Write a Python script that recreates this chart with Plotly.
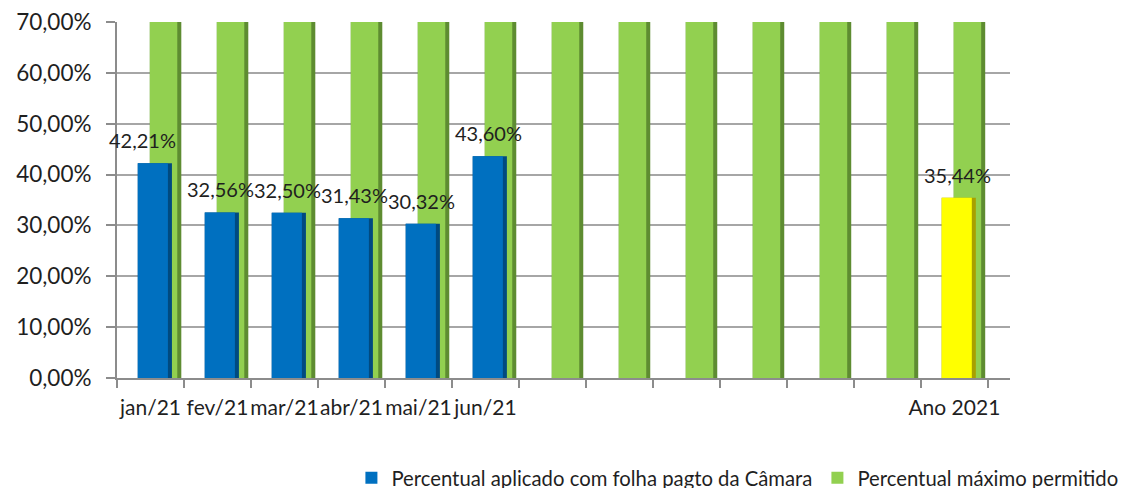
import plotly.graph_objects as go

categories = ["jan/21", "fev/21", "mar/21", "abr/21", "mai/21", "jun/21",
              "", "", "", "", "", "", "Ano 2021"]
aplicado = [42.21, 32.56, 32.50, 31.43, 30.32, 43.60,
            None, None, None, None, None, None, 35.44]
maximo = [70, 70, 70, 70, 70, 70, 70, 70, 70, 70, 70, 70, 70]

x = list(range(len(categories)))

# front series: blue for months, yellow for the year total
front_colors = ["#0070C0"] * (len(x) - 1) + ["#FFFF00"]
front_edge = ["#004A80"] * (len(x) - 1) + ["#A8A000"]

fig = go.Figure()

# back series (green) with a darker right edge for the 3D look
fig.add_trace(go.Bar(
    x=x, y=maximo, offset=-0.01, width=0.47,
    marker_color="#5E8C31", marker_line_width=0,
    showlegend=False, hoverinfo="skip"
))
fig.add_trace(go.Bar(
    x=x, y=maximo, offset=-0.01, width=0.41,
    marker_color="#92D050", marker_line_width=0,
    name="Percentual máximo permitido"
))

# front series
fig.add_trace(go.Bar(
    x=x, y=aplicado, offset=-0.19, width=0.51,
    marker_color=front_edge, marker_line_width=0,
    showlegend=False, hoverinfo="skip"
))
fig.add_trace(go.Bar(
    x=x, y=aplicado, offset=-0.19, width=0.45,
    marker_color=front_colors, marker_line_width=0,
    name="Percentual aplicado com folha pagto da Câmara"
))

# data labels
for xi, v in zip(x, aplicado):
    if v is None:
        continue
    fig.add_annotation(
        x=xi, y=v, text=f"{v:.2f}".replace(".", ",") + "%",
        showarrow=False, yshift=23, xshift=-8 if xi == 0 else 3,
        font=dict(size=20, color="#1F1F1F")
    )

fig.update_layout(
    width=1129, height=488,
    barmode="overlay",
    separators=",.",
    plot_bgcolor="white",
    paper_bgcolor="white",
    font=dict(family="Lato, Noto Sans, sans-serif", color="#1F1F1F"),
    margin=dict(l=109, r=127, t=14, b=118, autoexpand=False),
    legend=dict(
        orientation="h", x=1.127, xanchor="right", y=-0.281, yanchor="middle",
        traceorder="reversed", font=dict(size=20.3), itemwidth=30,
    ),
    xaxis=dict(
        range=[-0.5, 12.83], automargin=False,
        tickvals=x, ticktext=categories, tickangle=0,
        ticks="", showgrid=False, ticklabelstandoff=10,
        ticklabeloverflow="allow",
        showline=True, linecolor="#8C8C8C", linewidth=2,
        tickfont=dict(size=21),
        minor=dict(ticks="outside", tick0=0.5, dtick=1, ticklen=8,
                   tickcolor="#8C8C8C", tickwidth=2, showgrid=False),
        fixedrange=True,
    ),
    yaxis=dict(
        range=[0, 70], dtick=10, tickformat=".2f", ticksuffix="%",
        automargin=False, ticklabelstandoff=10,
        ticklabeloverflow="allow",
        showgrid=True, gridcolor="#A6A6A6", gridwidth=2,
        showline=True, linecolor="#8C8C8C", linewidth=2,
        ticks="outside", ticklen=9, tickcolor="#8C8C8C", tickwidth=2,
        tickfont=dict(size=22.5), zeroline=False,
    ),
)

fig.write_html("out.html")
